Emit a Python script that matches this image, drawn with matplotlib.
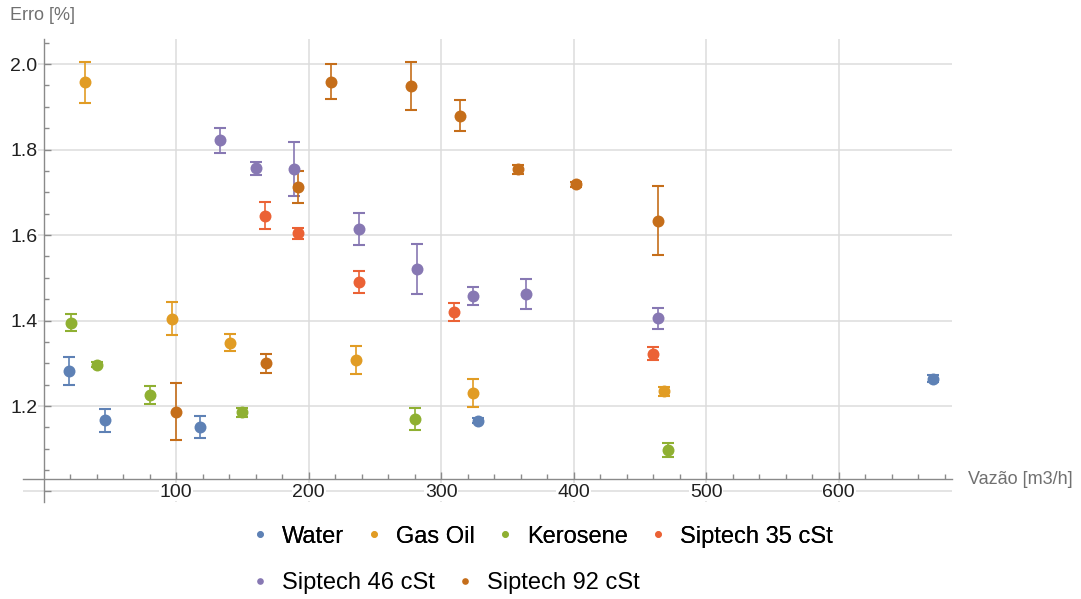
import matplotlib
matplotlib.use("Agg")
import matplotlib.pyplot as plt
from matplotlib.lines import Line2D
import numpy as np

plt.rcParams['font.family'] = ['Liberation Sans', 'DejaVu Sans']

# --- data ---
water_x = [19, 46, 118, 328, 671]
water_y = [1.282, 1.167, 1.151, 1.166, 1.264]
water_err = [0.033, 0.027, 0.026, 0.005, 0.008]

gasoil_x = [31, 97, 141, 236, 324, 468]
gasoil_y = [1.957, 1.404, 1.348, 1.308, 1.230, 1.234]
gasoil_err = [0.047, 0.039, 0.020, 0.032, 0.033, 0.010]

kero_x = [21, 40, 80, 150, 280, 471]
kero_y = [1.395, 1.297, 1.225, 1.185, 1.169, 1.097]
kero_err = [0.020, 0.006, 0.021, 0.010, 0.026, 0.016]

s35_x = [167, 192, 238, 310, 460]
s35_y = [1.645, 1.604, 1.491, 1.421, 1.322]
s35_err = [0.032, 0.013, 0.026, 0.021, 0.015]

s46_x = [133, 160, 189, 238, 282, 324, 364, 464]
s46_y = [1.822, 1.756, 1.754, 1.614, 1.520, 1.457, 1.462, 1.405]
s46_err = [0.029, 0.016, 0.063, 0.037, 0.058, 0.021, 0.034, 0.025]

s92_x = [100, 168, 192, 217, 277, 314, 358, 402, 464]
s92_y = [1.187, 1.300, 1.712, 1.959, 1.949, 1.879, 1.754, 1.719, 1.634]
s92_err = [0.067, 0.022, 0.038, 0.041, 0.056, 0.036, 0.010, 0.006, 0.081]

labels = ['Water', 'Gas Oil', 'Kerosene', 'Siptech 35 cSt', 'Siptech 46 cSt', 'Siptech 92 cSt']
colors = ['#5E81B5', '#E19C24', '#8FB032', '#EB6235', '#8778B3', '#C56E1A']
series = [(water_x, water_y, water_err), (gasoil_x, gasoil_y, gasoil_err),
          (kero_x, kero_y, kero_err), (s35_x, s35_y, s35_err),
          (s46_x, s46_y, s46_err), (s92_x, s92_y, s92_err)]

x_major = [100, 200, 300, 400, 500, 600]
y_major = [1.0, 1.2, 1.4, 1.6, 1.8, 2.0]
y_labels = ['', '1.2', '1.4', '1.6', '1.8', '2.0']

# --- figure ---
fig = plt.figure(figsize=(10.81, 5.99), dpi=100)
ax = fig.add_axes([0.02128, 0.16194, 0.8594, 0.77245])
ax.set_xlim(-15.5, 685.5)
ax.set_ylim(0.9754, 2.058)

grid_c = '#dcdcdc'
for gx in x_major:
    ax.axvline(gx, color=grid_c, lw=1.1, zorder=0)
for gy in y_major:
    ax.axhline(gy, color=grid_c, lw=1.1, zorder=0)

# error bars first, then the round points on top
for (xs, ys, es), c in zip(series, colors):
    ax.errorbar(xs, ys, yerr=es, fmt='none', ecolor=c,
                elinewidth=1.2, capsize=4.6, capthick=1.5, zorder=3)
    ax.plot(xs, ys, 'o', color=c, ms=8.6, mew=0, zorder=4)

# Mathematica-style axes crossing inside the frame
axis_c = '#8a8a8a'
for s in ['top', 'right']:
    ax.spines[s].set_visible(False)
ax.spines['left'].set_position(('data', 0))
ax.spines['bottom'].set_position(('data', 1.03))
for s in ['left', 'bottom']:
    ax.spines[s].set_color(axis_c)
    ax.spines[s].set_linewidth(1.0)

ax.set_xticks(x_major)
ax.set_xticks(np.arange(20, 690, 20), minor=True)
ax.set_yticks(y_major)
ax.set_yticklabels(y_labels)
ax.set_yticks(np.arange(1.0, 2.06, 0.05), minor=True)
ax.tick_params(which='both', direction='in', color=axis_c, width=1.0,
               labelsize=14, labelcolor='#202020')
ax.tick_params(which='major', length=5)
ax.tick_params(which='minor', length=3.3)
ax.tick_params(axis='x', pad=3.5)
ax.tick_params(axis='y', pad=4.5)
for lbl in ax.get_xticklabels() + ax.get_yticklabels():
    lbl.set_bbox(dict(facecolor='white', edgecolor='none', pad=0.5))

fig.text(10 / 1081, 1 - 16 / 599, 'Erro [%]', fontsize=13, color='#707070',
         ha='left', va='center')
fig.text(968 / 1081, 1 - 480 / 599, 'Vazão [m3/h]', fontsize=13, color='#707070',
         ha='left', va='center')

# legend in two rows, as in the reference
handles = [Line2D([], [], marker='o', ls='none', color=c, ms=4.8, mew=0) for c in colors]
leg_kw = dict(frameon=False, fontsize=17, handlelength=0.6, handletextpad=0.63,
              columnspacing=0.97, borderpad=0, borderaxespad=0, loc='center left')
leg1 = fig.legend(handles[:4], labels[:4], ncol=4,
                  bbox_to_anchor=(0.234, 1 - 536.7 / 599), **leg_kw)
fig.add_artist(leg1)
fig.legend(handles[4:], labels[4:], ncol=2,
           bbox_to_anchor=(0.234, 1 - 583.3 / 599), **leg_kw)

fig.savefig('out.png', dpi=100)
